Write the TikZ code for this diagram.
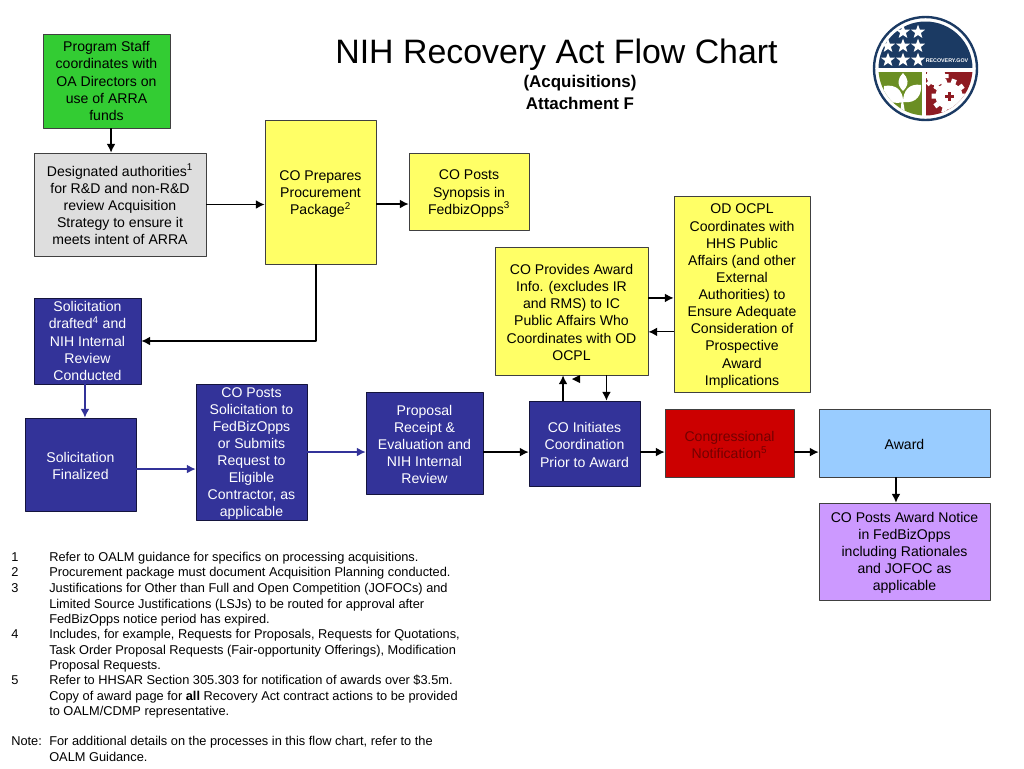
\documentclass[tikz,border=0pt]{standalone}
\usepackage{fontspec}
\setmainfont{Liberation Sans}
\usetikzlibrary{shapes.geometric,arrows.meta}
\definecolor{navy}{HTML}{333399}
\definecolor{lime}{HTML}{33CC33}
\definecolor{lemon}{HTML}{FFFF66}
\definecolor{sky}{HTML}{99CCFF}
\definecolor{lilac}{HTML}{CC99FF}
\definecolor{sealblue}{HTML}{1B3A63}
\definecolor{sealgreen}{HTML}{6B8E23}
\definecolor{sealred}{HTML}{8E1B22}
\newcommand{\lowtext}[1]{\null\\[\dimexpr#1-12.85pt\relax]}
\tikzset{
	boxnode/.style={draw=black!75, line width=0.6pt, align=center, inner sep=0pt,
		font=\fontsize{10.55}{12.85}\selectfont},
	darkbox/.style={boxnode, fill=navy, text=white, draw=black!60!navy},
	yellowbox/.style={boxnode, fill=lemon},
	arr/.style={-{Latex[length=6.5pt,width=6.5pt]}, line width=0.9pt},
	bluearr/.style={arr, draw=navy, fill=navy},
	note/.style={anchor=north west, align=left, inner sep=0pt,
		font=\fontsize{9.6}{11.85}\selectfont}
}
\begin{document}
\begin{tikzpicture}[x=0.75pt, y=0.75pt, line join=round, >=latex]
	\useasboundingbox (0,0) rectangle (1024,-768);
	% title
	\node[inner sep=0pt, font=\fontsize{25.4}{30}\selectfont] (title) at (556.5,-55) {NIH Recovery Act Flow Chart};
	\node[inner sep=0pt, align=center, font=\fontsize{12.7}{16}\bfseries\selectfont] (subtitle) at (580,-92.5) {(Acquisitions)\\Attachment F};
	% boxes
	\node[boxnode, fill=lime, minimum width=95.25pt, minimum height=70.5pt] (staff) at (106.5,-81)
		{Program Staff\\coordinates with\\OA Directors on\\use of ARRA\\funds};
	\node[boxnode, fill=black!13, minimum width=129pt, minimum height=77.25pt] (auth) at (120,-204.5)
		{Designated authorities\textsuperscript{1}\\for R\&D and non-R\&D\\review Acquisition\\Strategy to ensure it\\meets intent of ARRA};
	\node[yellowbox, minimum width=83.25pt, minimum height=108pt] (package) at (320.5,-192)
		{\lowtext{10.5pt}CO Prepares\\Procurement\\Package\textsuperscript{2}};
	\node[yellowbox, minimum width=90pt, minimum height=57.75pt] (synopsis) at (469,-191.5)
		{\lowtext{10.5pt}CO Posts\\Synopsis in\\FedbizOpps\textsuperscript{3}};
	\node[yellowbox, minimum width=102pt, minimum height=147pt] (ocpl) at (742,-294)
		{\lowtext{10.5pt}OD OCPL\\Coordinates with\\HHS Public\\Affairs (and other\\External\\Authorities) to\\Ensure Adequate\\Consideration of\\Prospective\\Award\\Implications};
	\node[yellowbox, minimum width=114.75pt, minimum height=96pt] (info) at (571.5,-311)
		{\lowtext{9.7pt}CO Provides Award\\Info. (excludes IR\\and RMS) to IC\\Public Affairs Who\\Coordinates with OD\\OCPL};
	\node[darkbox, minimum width=80.25pt, minimum height=64.5pt] (drafted) at (87.5,-341)
		{Solicitation\\drafted\textsuperscript{4} and\\NIH Internal\\Review\\Conducted};
	\node[darkbox, minimum width=83.25pt, minimum height=69.75pt] (final) at (80.5,-464.5)
		{\lowtext{9.7pt}Solicitation\\Finalized};
	\node[darkbox, minimum width=83.25pt, minimum height=102pt] (posts) at (251.5,-452)
		{\lowtext{9.7pt}CO Posts\\Solicitation to\\FedBizOpps\\or Submits\\Request to\\Eligible\\Contractor, as\\applicable};
	\node[darkbox, minimum width=87.75pt, minimum height=76.5pt] (receipt) at (424.5,-443)
		{\lowtext{9.7pt}Proposal\\Receipt \&\\Evaluation and\\NIH Internal\\Review};
	\node[darkbox, minimum width=83.25pt, minimum height=63.75pt] (initiates) at (584.5,-443.5)
		{\lowtext{9.7pt}CO Initiates\\Coordination\\Prior to Award};
	\node[boxnode, fill=red!80!black, text=red!45!black, minimum width=96.75pt, minimum height=51pt] (congress) at (729.5,-443)
		{\lowtext{10.5pt}Congressional\\Notification\textsuperscript{5}};
	\node[boxnode, fill=sky, minimum width=128.25pt, minimum height=51pt] (award) at (904.5,-443) {\lowtext{9.7pt}Award};
	\node[boxnode, fill=lilac, minimum width=128.25pt, minimum height=72.75pt] (notice) at (904.5,-551.5)
		{\lowtext{9.7pt}CO Posts Award Notice\\in FedBizOpps\\including Rationales\\and JOFOC as\\applicable};
	% connectors
	\coordinate (turn) at (package.south |- drafted.east);
	\draw[arr] ([xshift=3.4pt]staff.south) -- ([xshift=3.4pt]staff.south |- auth.north);
	\draw[arr] (auth.east) -- (auth.east -| package.west);
	\draw[arr] ([yshift=-9pt]package.east) -- ([yshift=-9pt]package.east -| synopsis.west);
	\draw[arr] ([xshift=-3.4pt]package.south) -- ([xshift=-3.4pt]package.south |- turn) -- (drafted.east);
	\draw[bluearr] ([xshift=-1.9pt]drafted.south) -- ([xshift=-1.9pt]drafted.south |- final.north);
	\draw[bluearr] ([yshift=-3.4pt]final.east) -- ([yshift=-3.4pt]final.east -| posts.west);
	\draw[bluearr] (posts.east) -- (posts.east -| receipt.west);
	\draw[arr] ([yshift=-6.8pt]receipt.east) -- ([yshift=-6.8pt]receipt.east -| initiates.west);
	\draw[arr] ([yshift=-6.4pt]initiates.east) -- ([yshift=-6.4pt]initiates.east -| congress.west);
	\draw[arr] ([yshift=-6.8pt]congress.east) -- ([yshift=-6.8pt]congress.east -| award.west);
	\draw[arr] ([xshift=-6.4pt]award.south) -- ([xshift=-6.4pt]award.south |- notice.north);
	\draw[arr] ([xshift=-16.1pt]initiates.north) -- ([xshift=-16.1pt]initiates.north |- info.south);
	\draw[arr] ([xshift=26.2pt]info.south) -- ([xshift=26.2pt]info.south |- initiates.north);
	\draw[arr] ([yshift=9.8pt]info.east) -- ([yshift=9.8pt]info.east -| ocpl.west);
	\draw[arr] ([yshift=-28.4pt]ocpl.west) -- ([yshift=-28.4pt]ocpl.west -| info.east);
	\fill[black] (572,-379) -- (580,-375) -- (580,-383) -- cycle;
	% footnotes
	\foreach \n/\y/\t in {
		1/550/{Refer to OALM guidance for specifics on processing acquisitions.},
		2/565.5/{Procurement package must document Acquisition Planning conducted.},
		3/581/{Justifications for Other than Full and Open Competition (JOFOCs) and\\Limited Source Justifications (LSJs) to be routed for approval after\\FedBizOpps notice period has expired.},
		4/627/{Includes, for example, Requests for Proposals, Requests for Quotations,\\Task Order Proposal Requests (Fair-opportunity Offerings), Modification\\Proposal Requests.},
		5/673/{Refer to HHSAR Section 305.303 for notification of awards over \$3.5m.\\Copy of award page for \textbf{all} Recovery Act contract actions to be provided\\to OALM/CDMP representative.}}{
		\node[note] (num\n) at (11,-\y) {\strut\n};
		\node[note] (text\n) at (49,-\y) {\strut\t};}
	\node[note] (notelabel) at (11,-734.5) {\strut Note:};
	\node[note] (notetext) at (49,-734.5) {\strut For additional details on the processes in this flow chart, refer to the\\OALM Guidance.};
	% seal
	\fill[white] (925.5,-68.5) circle (55);
	\draw[sealblue, line width=1.8pt] (925.5,-68.5) circle (51.5);
	\begin{scope}
		\clip (925.5,-68.5) circle (47);
		\fill[sealblue] (870,-15) rectangle (985,-68);
		\fill[sealgreen] (870,-72) rectangle (922,-125);
		\fill[sealred] (926,-72) rectangle (985,-125);
		% plant
		\fill[white] (900,-118) -- (902,-95) -- (906,-118) -- cycle;
		\fill[white] (903,-102) .. controls (888,-106) and (883,-96) .. (884,-86) .. controls (896,-84) and (903,-90) .. (903,-102) -- cycle;
		\fill[white] (903,-102) .. controls (917,-104) and (922,-94) .. (921,-85) .. controls (910,-83) and (903,-90) .. (903,-102) -- cycle;
		\fill[white] (903,-91) .. controls (896,-84) and (898,-78) .. (903,-73) .. controls (908,-78) and (910,-84) .. (903,-91) -- cycle;
		% gears
		\begin{scope}
			\clip (926,-72) rectangle (985,-125);
			\foreach \a in {0,36,...,324}{
				\fill[white] (949,-96) ++(\a:13) -- ++(\a+90:2.5) -- ++(\a:4.5) -- ++(\a-90:5) -- ++(\a+180:4.5) -- cycle;}
			\fill[white] (949,-96) circle (13.5);
			\foreach \a in {0,45,...,315}{
				\fill[white] (936,-76) ++(\a:9) -- ++(\a+90:2) -- ++(\a:3.5) -- ++(\a-90:4) -- ++(\a+180:3.5) -- cycle;}
			\fill[white] (936,-76) circle (9.5);
		\end{scope}
		\fill[sealred] (947.5,-100.5) rectangle (950.5,-91.5);
		\fill[sealred] (944.5,-97.5) rectangle (953.5,-94.5);
	\end{scope}
	\foreach \sx/\sy in {888/60,903/60,918/60,888/46,903/46,918/46,903/32,918/32}{
		\node[star, star points=5, star point ratio=2.4, fill=white, inner sep=0pt, minimum size=11pt] (star\sx\sy) at (\sx,-\sy) {};}
	\node[text=white, inner sep=0pt, font=\fontsize{4}{4}\bfseries\selectfont] (sealtext) at (947,-61) {RECOVERY.GOV};
\end{tikzpicture}
\end{document}
